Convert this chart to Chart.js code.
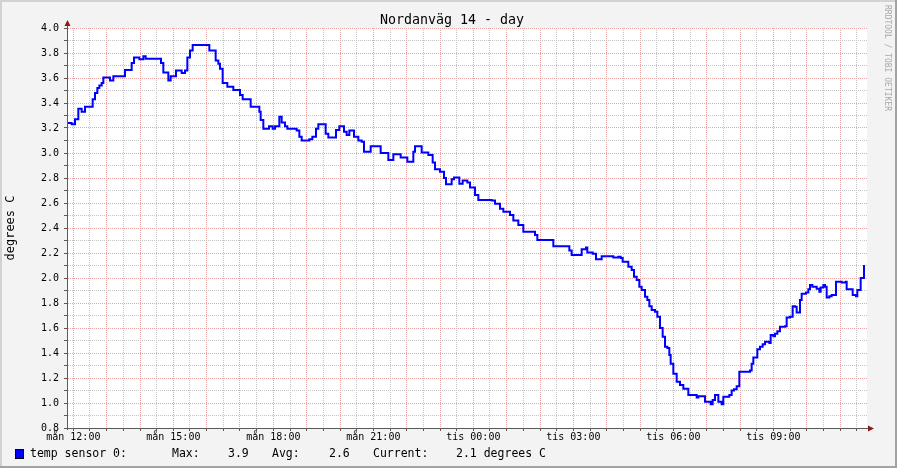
<!DOCTYPE html>
<html>
<head>
<meta charset="utf-8">
<title>Nordanväg 14 - day</title>
<script src="https://cdn.jsdelivr.net/npm/chart.js@4.4.1/dist/chart.umd.min.js"></script>
<style>
    html, body { margin: 0; padding: 0; background: #f3f3f3; }
    canvas { display: block; }
</style>
</head>
<body>
<canvas id="graph" width="897" height="468"></canvas>
<script>
// temperature readings, time in hours counted from mån 00:00
const hours = [
    11.80, 11.95, 12.05, 12.15, 12.25, 12.35, 12.58, 12.65, 12.72, 12.78, 12.85, 12.90,
    13.10, 13.20, 13.55, 13.75, 13.82, 13.98, 14.10, 14.17, 14.63, 14.70, 14.85, 14.92,
    15.08, 15.25, 15.35, 15.42, 15.50, 15.58, 16.08, 16.27, 16.35, 16.40, 16.48, 16.62,
    16.80, 17.00, 17.08, 17.32, 17.58, 17.62, 17.70, 17.87, 17.98, 18.05, 18.18, 18.25,
    18.35, 18.42, 18.70, 18.78, 18.85, 19.08, 19.17, 19.28, 19.35, 19.57, 19.65, 19.88,
    19.98, 20.12, 20.20, 20.28, 20.42, 20.55, 20.65, 20.72, 20.92, 21.22, 21.45, 21.60,
    21.82, 22.02, 22.20, 22.25, 22.45, 22.65, 22.78, 22.85, 23.00, 23.12, 23.18, 23.35,
    23.42, 23.58, 23.68, 23.82, 23.90, 24.05, 24.15, 24.55, 24.65, 24.80, 24.90, 25.10,
    25.20, 25.35, 25.50, 25.85, 25.92, 26.40, 26.88, 26.95, 27.25, 27.38, 27.42, 27.58,
    27.68, 27.85, 28.20, 28.35, 28.42, 28.48, 28.65, 28.75, 28.82, 28.90, 28.98, 29.05,
    29.15, 29.22, 29.28, 29.35, 29.45, 29.52, 29.60, 29.68, 29.75, 29.82, 29.88, 29.92,
    30.00, 30.10, 30.20, 30.30, 30.45, 30.70, 30.75, 30.95, 31.12, 31.18, 31.25, 31.35,
    31.45, 31.50, 31.68, 31.75, 31.82, 31.90, 31.98, 32.30, 32.35, 32.40, 32.52, 32.60,
    32.68, 32.75, 32.88, 32.92, 33.00, 33.05, 33.12, 33.20, 33.35, 33.40, 33.50, 33.58,
    33.65, 33.70, 33.80, 33.85, 33.98, 34.05, 34.10, 34.17, 34.30, 34.38, 34.42, 34.50,
    34.55, 34.60, 34.68, 34.75, 34.88, 35.05, 35.17, 35.20, 35.38, 35.48, 35.52, 35.62,
    35.72
];
const temps = [
    3.240, 3.230, 3.270, 3.355, 3.330, 3.370, 3.430, 3.480, 3.520, 3.540, 3.560, 3.605,
    3.580, 3.615, 3.665, 3.720, 3.765, 3.750, 3.775, 3.755, 3.720, 3.645, 3.580, 3.615,
    3.660, 3.640, 3.660, 3.765, 3.820, 3.865, 3.820, 3.740, 3.715, 3.675, 3.560, 3.530,
    3.505, 3.465, 3.430, 3.370, 3.330, 3.265, 3.195, 3.215, 3.195, 3.215, 3.290, 3.245,
    3.215, 3.195, 3.180, 3.130, 3.100, 3.110, 3.130, 3.195, 3.230, 3.155, 3.125, 3.185,
    3.215, 3.170, 3.145, 3.180, 3.130, 3.100, 3.090, 3.010, 3.055, 3.000, 2.945, 2.990,
    2.965, 2.930, 3.010, 3.055, 3.005, 2.985, 2.925, 2.870, 2.850, 2.800, 2.750, 2.790,
    2.805, 2.755, 2.780, 2.765, 2.725, 2.665, 2.625, 2.620, 2.595, 2.555, 2.530, 2.505,
    2.460, 2.425, 2.370, 2.345, 2.305, 2.255, 2.220, 2.185, 2.230, 2.245, 2.205, 2.195,
    2.150, 2.175, 2.165, 2.170, 2.160, 2.130, 2.090, 2.065, 2.010, 1.985, 1.930, 1.905,
    1.850, 1.825, 1.775, 1.745, 1.730, 1.690, 1.600, 1.530, 1.450, 1.440, 1.385, 1.315,
    1.235, 1.170, 1.145, 1.115, 1.065, 1.045, 1.055, 1.010, 0.990, 1.025, 1.065, 1.010,
    0.990, 1.050, 1.065, 1.100, 1.110, 1.135, 1.250, 1.260, 1.315, 1.365, 1.430, 1.450,
    1.470, 1.490, 1.480, 1.545, 1.535, 1.555, 1.575, 1.610, 1.615, 1.685, 1.690, 1.775,
    1.770, 1.725, 1.825, 1.875, 1.885, 1.910, 1.945, 1.930, 1.915, 1.890, 1.925, 1.945,
    1.930, 1.845, 1.855, 1.865, 1.970, 1.965, 1.970, 1.910, 1.865, 1.855, 1.905, 2.000,
    2.105
];

const xTickHours = [12, 15, 18, 21, 24, 27, 30, 33];
const xTickLabels = ['mån 12:00', 'mån 15:00', 'mån 18:00', 'mån 21:00',
                     'tis 00:00', 'tis 03:00', 'tis 06:00', 'tis 09:00'];
const xRange = [11.81, 35.81];
const yRange = [0.8, 4.0];

const graphTitle = 'Nordanväg 14 - day';
const unitLabel = 'degrees C';
const seriesName = 'temp sensor 0:';
const statNames = ['Max:', 'Avg:', 'Current:'];
const statValues = ['3.9', '2.6', '2.1 degrees C'];
const watermark = 'RRDTOOL / TOBI OETIKER';

const MONO = "'DejaVu Sans Mono', monospace";
const MAJOR_GRID = '#eba4a4';
const MINOR_GRID = '#c4c4c4';
const AXIS = '#5a5a5a';
const ARROW = '#8e1b1b';

class TempGraph {
    constructor(canvasId) {
        this.canvas = document.getElementById(canvasId);
        this.chart = null;
        this.init();
    }

    init() {
        const points = hours.map((h, i) => ({ x: h, y: temps[i] }));
        this.chart = new Chart(this.canvas.getContext('2d'), {
            type: 'line',
            data: {
                datasets: [{
                    label: seriesName,
                    data: points,
                    borderColor: '#0000ff',
                    borderWidth: 2,
                    pointRadius: 0,
                    stepped: 'before',
                    fill: false
                }]
            },
            options: {
                responsive: false,
                animation: false,
                events: [],
                layout: { padding: { top: 28, right: 30, bottom: 0, left: 0 } },
                plugins: {
                    legend: { display: false },
                    tooltip: { enabled: false },
                    title: { display: false }
                },
                scales: {
                    x: this.xScale(),
                    y: this.yScale()
                }
            },
            plugins: [this.decorations()]
        });
    }

    xScale() {
        return {
            type: 'linear',
            min: xRange[0],
            max: xRange[1],
            afterFit: scale => { scale.height = 40; },
            afterBuildTicks: scale => {
                const ticks = [];
                for (let h = 12; h < xRange[1]; h += 0.5) ticks.push({ value: h });
                scale.ticks = ticks;
            },
            ticks: {
                autoSkip: false,
                maxRotation: 0,
                minRotation: 0,
                padding: 0,
                color: '#000',
                font: { family: MONO, size: 10 },
                callback: value => {
                    const i = xTickHours.indexOf(value);
                    return i >= 0 ? xTickLabels[i] : '';
                }
            },
            grid: {
                color: ctx => Number.isInteger(ctx.tick.value) ? MAJOR_GRID : MINOR_GRID,
                tickColor: AXIS,
                tickLength: 3,
                tickBorderDash: []
            },
            border: { display: true, color: AXIS, width: 1, dash: [1, 1] }
        };
    }

    yScale() {
        return {
            type: 'linear',
            min: yRange[0],
            max: yRange[1],
            afterFit: scale => { scale.width = 67; },
            afterBuildTicks: scale => {
                const ticks = [];
                for (let i = 0; i <= 32; i++) ticks.push({ value: +(yRange[0] + i * 0.1).toFixed(1) });
                scale.ticks = ticks;
            },
            ticks: {
                autoSkip: false,
                padding: 5,
                color: '#000',
                font: { family: MONO, size: 10 },
                callback: value => Math.round(value * 10) % 2 === 0 ? value.toFixed(1) : ''
            },
            grid: {
                color: ctx => Math.round(ctx.tick.value * 10) % 2 === 0 ? MAJOR_GRID : MINOR_GRID,
                tickColor: AXIS,
                tickLength: 3,
                tickBorderDash: []
            },
            border: { display: true, color: AXIS, width: 1, dash: [1, 1] },
            title: {
                display: true,
                text: unitLabel,
                color: '#000',
                font: { family: MONO, size: 12 },
                padding: { top: 4, bottom: 0 }
            }
        };
    }

    decorations() {
        return {
            id: 'rrdDecorations',
            beforeDraw(chart) {
                const { ctx, chartArea: a, width, height } = chart;
                ctx.save();
                ctx.fillStyle = '#f3f3f3';
                ctx.fillRect(0, 0, width, height);
                // bevelled frame
                ctx.fillStyle = '#d2d2d2';
                ctx.fillRect(0, 0, width, 2);
                ctx.fillRect(0, 0, 2, height);
                ctx.fillStyle = '#a3a3a3';
                ctx.fillRect(width - 2, 0, 2, height);
                ctx.fillRect(0, height - 2, width, 2);
                ctx.fillStyle = '#ffffff';
                ctx.fillRect(a.left, a.top, a.right - a.left, a.bottom - a.top);
                ctx.restore();
            },
            afterDraw(chart) {
                const { ctx, chartArea: a } = chart;
                ctx.save();

                // axis extensions and arrows
                ctx.strokeStyle = AXIS;
                ctx.lineWidth = 1;
                ctx.beginPath();
                ctx.moveTo(a.left + 0.5, a.bottom + 2);
                ctx.lineTo(a.left + 0.5, a.top - 3);
                ctx.moveTo(a.left - 3, a.bottom + 0.5);
                ctx.lineTo(a.right + 2, a.bottom + 0.5);
                ctx.stroke();
                ctx.fillStyle = ARROW;
                ctx.beginPath();
                ctx.moveTo(a.left - 2.5, a.top - 2);
                ctx.lineTo(a.left + 3.5, a.top - 2);
                ctx.lineTo(a.left + 0.5, a.top - 8);
                ctx.closePath();
                ctx.fill();
                ctx.beginPath();
                ctx.moveTo(a.right + 1, a.bottom - 2.5);
                ctx.lineTo(a.right + 1, a.bottom + 3.5);
                ctx.lineTo(a.right + 7, a.bottom + 0.5);
                ctx.closePath();
                ctx.fill();

                // title
                ctx.fillStyle = '#000';
                ctx.font = '13.3px ' + MONO;
                ctx.textAlign = 'center';
                ctx.textBaseline = 'alphabetic';
                ctx.fillText(graphTitle, 452, 24);

                // legend row
                ctx.fillStyle = '#0000ff';
                ctx.fillRect(15, 449, 8, 9);
                ctx.strokeStyle = '#000';
                ctx.strokeRect(15.5, 449.5, 8, 9);
                ctx.fillStyle = '#000';
                ctx.font = '11.5px ' + MONO;
                ctx.textAlign = 'left';
                ctx.textBaseline = 'middle';
                ctx.fillText(seriesName, 30, 454);
                const nameX = [172, 272, 373];
                const valueX = [228, 329, 456];
                statNames.forEach((name, i) => {
                    ctx.fillText(name, nameX[i], 454);
                    ctx.fillText(statValues[i], valueX[i], 454);
                });

                // watermark along the right edge
                ctx.translate(887.5, 5);
                ctx.rotate(Math.PI / 2);
                ctx.fillStyle = '#a8a8a8';
                ctx.font = '8px ' + MONO;
                ctx.textAlign = 'left';
                ctx.textBaseline = 'middle';
                ctx.fillText(watermark, 0, 0);
                ctx.restore();
            }
        };
    }
}

document.addEventListener('DOMContentLoaded', function() {
    new TempGraph('graph');
});
</script>
</body>
</html>
